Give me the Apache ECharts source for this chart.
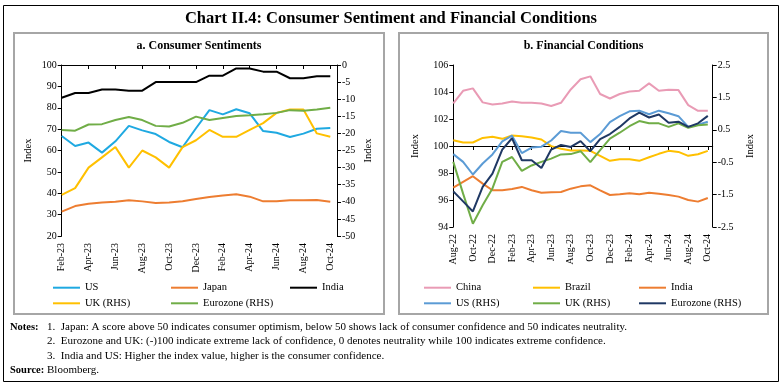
<!DOCTYPE html>
<html>
<head>
<meta charset="utf-8">
<script src="https://cdn.jsdelivr.net/npm/echarts@6/dist/echarts.min.js"></script>
<style>html,body{margin:0;padding:0;background:#fff}#c{width:782px;height:385px}</style>
</head>
<body>
<div id="c"></div>
<script>
// ---- Panel a: Consumer Sentiments ----
const monthsA = ['Feb-23','Mar-23','Apr-23','May-23','Jun-23','Jul-23','Aug-23','Sep-23','Oct-23','Nov-23','Dec-23','Jan-24','Feb-24','Mar-24','Apr-24','May-24','Jun-24','Jul-24','Aug-24','Sep-24','Oct-24'];
const usA = [66.8, 62.1, 63.7, 59.0, 64.3, 71.5, 69.4, 67.7, 64.0, 61.5, 70.4, 78.9, 76.9, 79.3, 77.4, 69.1, 68.3, 66.3, 67.9, 70.2, 70.5];
const japanA = [31.4, 34.0, 35.1, 35.7, 36.0, 36.7, 36.2, 35.4, 35.7, 36.3, 37.3, 38.2, 39.0, 39.5, 38.4, 36.2, 36.3, 36.7, 36.7, 36.8, 36.0];
const indiaA = [84.7, 86.9, 86.9, 88.5, 88.5, 88.0, 88.0, 92.0, 92.0, 92.0, 92.0, 95.0, 95.0, 98.4, 98.4, 96.9, 96.9, 93.8, 93.8, 94.7, 94.7];
const ukA = [-38, -36, -30, -27, -24, -30, -25, -27, -30, -24, -22, -19, -21, -21, -19, -17, -14, -13, -13, -20, -21];
const euroA = [-19.0, -19.2, -17.4, -17.3, -16.1, -15.2, -16.1, -17.8, -18.0, -16.9, -15.1, -16.1, -15.5, -14.9, -14.7, -14.4, -14.0, -13.2, -13.4, -13.0, -12.5];

// ---- Panel b: Financial Conditions ----
const monthsB = ['Aug-22','Sep-22','Oct-22','Nov-22','Dec-22','Jan-23','Feb-23','Mar-23','Apr-23','May-23','Jun-23','Jul-23','Aug-23','Sep-23','Oct-23','Nov-23','Dec-23','Jan-24','Feb-24','Mar-24','Apr-24','May-24','Jun-24','Jul-24','Aug-24','Sep-24','Oct-24'];
const chinaB = [103.15, 104.09, 104.27, 103.23, 103.08, 103.15, 103.30, 103.20, 103.20, 103.15, 102.96, 103.20, 104.19, 104.94, 105.16, 103.85, 103.52, 103.85, 104.04, 104.09, 104.64, 104.09, 104.17, 104.14, 103.03, 102.61, 102.61];
const brazilB = [100.43, 100.26, 100.26, 100.60, 100.68, 100.53, 100.78, 100.73, 100.63, 100.48, 99.99, 99.79, 99.66, 99.66, 99.64, 99.27, 98.90, 99.02, 99.02, 98.90, 99.17, 99.42, 99.64, 99.56, 99.27, 99.39, 99.64];
const indiaB = [96.92, 97.34, 97.76, 97.21, 96.72, 96.72, 96.82, 96.97, 96.72, 96.54, 96.57, 96.59, 96.84, 97.01, 97.09, 96.72, 96.37, 96.42, 96.50, 96.42, 96.54, 96.47, 96.37, 96.25, 96.00, 95.88, 96.15];
const usB = [-0.25, -0.49, -0.88, -0.54, -0.26, 0.14, 0.32, -0.22, -0.05, -0.02, 0.17, 0.46, 0.41, 0.41, 0.12, 0.37, 0.74, 0.92, 1.07, 1.09, 0.98, 1.09, 1.01, 0.92, 0.59, 0.66, 0.75];
const ukB = [-0.49, -1.47, -2.40, -1.83, -1.31, -0.49, -0.34, -0.77, -0.60, -0.49, -0.39, -0.26, -0.25, -0.16, -0.50, -0.13, 0.23, 0.41, 0.61, 0.77, 0.70, 0.70, 0.59, 0.70, 0.56, 0.64, 0.66];
const euroB = [-1.40, -1.71, -2.02, -1.26, -0.85, -0.11, 0.24, -0.44, -0.44, -0.68, -0.11, 0.03, -0.03, 0.15, -0.16, 0.21, 0.37, 0.59, 0.85, 1.03, 0.88, 0.97, 0.72, 0.75, 0.59, 0.70, 0.93];

const titleText = 'Chart II.4: Consumer Sentiment and Financial Conditions';
const subA = 'a. Consumer Sentiments';
const subB = 'b. Financial Conditions';
const notes = [
  '1.  Japan: A score above 50 indicates consumer optimism, below 50 shows lack of consumer confidence and 50 indicates neutrality.',
  '2.  Eurozone and UK: (-)100 indicate extreme lack of confidence, 0 denotes neutrality while 100 indicates extreme confidence.',
  '3.  India and US: Higher the index value, higher is the consumer confidence.'
];
const sourceText = 'Bloomberg.';

const FONT = "'Liberation Serif', 'Times New Roman', serif";
const C = {us:'#1FA9E1', japan:'#ED7D31', india:'#000000', uk:'#FFC000', euro:'#70AD47',
           china:'#E99BB5', brazil:'#FFC000', indiaB:'#ED7D31', usB:'#5B9BD5', ukB:'#70AD47', euroB:'#1F3864'};

const pairs = arr => arr.map((v, i) => [i, v]);
const chart = echarts.init(document.getElementById('c'), null, {renderer: 'canvas'});

function xAx(gi, labels, maxV) {
  return {
    type: 'value', gridIndex: gi, min: 0, max: maxV, interval: 2,
    axisLine: {show: true, lineStyle: {color: '#000', width: 1}},
    axisTick: {show: true, length: 4, lineStyle: {color: '#000'}},
    splitLine: {show: false},
    axisLabel: {rotate: 90, margin: 7, fontFamily: FONT, fontSize: 10, color: '#000',
      showMaxLabel: false, formatter: v => labels[v] || ''}
  };
}
function yAx(gi, pos, min, max, interval, gap) {
  return {
    type: 'value', gridIndex: gi, position: pos, min: min, max: max, interval: interval,
    name: 'Index', nameLocation: 'middle', nameRotate: 90, nameGap: gap,
    nameTextStyle: {fontFamily: FONT, fontSize: 10.5, color: '#000'},
    axisLine: {show: true, lineStyle: {color: '#000', width: 1}},
    axisTick: {show: true, length: 4, lineStyle: {color: '#000'}},
    splitLine: {show: false},
    axisLabel: {margin: 5, fontFamily: FONT, fontSize: 10, color: '#000'}
  };
}
function line(name, data, xi, yi, color) {
  return {name: name, type: 'line', xAxisIndex: xi, yAxisIndex: yi, data: pairs(data),
    showSymbol: false, symbol: 'none', lineStyle: {color: color, width: 2}, itemStyle: {color: color},
    animation: false, silent: true};
}
function leg(name, x, y) {
  return {data: [name], left: x, top: y, padding: 0, itemWidth: 27, itemHeight: 2, icon: 'rect',
    itemGap: 0, textStyle: {fontFamily: FONT, fontSize: 10.5, color: '#000', lineHeight: 12}};
}

const legA = [['US', 'Japan', 'India'], ['UK (RHS)', 'Eurozone (RHS)']];
const legB = [['China', 'Brazil', 'India '], ['US (RHS)', 'UK (RHS) ', 'Eurozone (RHS) ']];
const legends = [];
const colA = [53, 171, 290], colB = [424, 533, 639], rowY = [281.7, 297.3];
legA.forEach((row, r) => row.forEach((n, c) => legends.push(leg(n, colA[c], rowY[r]))));
legB.forEach((row, r) => row.forEach((n, c) => legends.push(leg(n, colB[c], rowY[r]))));

const txt = (x, y, text, size, bold, align) => ({type: 'text', x: x, y: y, silent: true,
  style: {text: text, fontFamily: FONT, fontSize: size, fontWeight: bold ? 'bold' : 'normal', fill: '#000',
    align: align || 'left', verticalAlign: 'middle'}});

const graphics = [
  {type: 'rect', shape: {x: 3.5, y: 5.5, width: 775, height: 376}, style: {fill: 'none', stroke: '#000', lineWidth: 1}, silent: true},
  {type: 'rect', shape: {x: 14, y: 33, width: 370, height: 281}, style: {fill: 'none', stroke: '#A6A6A6', lineWidth: 2}, silent: true},
  {type: 'rect', shape: {x: 399, y: 33, width: 369, height: 281}, style: {fill: 'none', stroke: '#A6A6A6', lineWidth: 2}, silent: true},
  txt(391, 19, titleText, 16.5, true, 'center'),
  txt(199, 46, subA, 12, true, 'center'),
  txt(583.5, 46, subB, 12, true, 'center'),
  txt(10, 327, 'Notes:', 10.5, true),
  txt(47, 327, notes[0], 11, false),
  txt(47, 341.5, notes[1], 11, false),
  txt(47, 356, notes[2], 11, false),
  txt(10, 370.5, 'Source:', 10.5, true),
  txt(47, 370.5, sourceText, 11, false)
];

chart.setOption({
  animation: false,
  backgroundColor: '#fff',
  grid: [
    {left: 61.7, top: 65, width: 275.3, height: 171, outerBoundsMode: 'none'},
    {left: 453.3, top: 65, width: 259.4, height: 162, outerBoundsMode: 'none'}
  ],
  xAxis: [xAx(0, monthsA, monthsA.length - 0.5), xAx(1, monthsB, monthsB.length - 0.5)],
  yAxis: [
    yAx(0, 'left', 20, 100, 10, 28),
    yAx(0, 'right', -50, 0, 5, 26),
    yAx(1, 'left', 94, 106, 2, 33),
    yAx(1, 'right', -2.5, 2.5, 1, 32)
  ],
  legend: legends,
  series: [
    line('US', usA, 0, 0, C.us),
    line('Japan', japanA, 0, 0, C.japan),
    line('India', indiaA, 0, 0, C.india),
    line('UK (RHS)', ukA, 0, 1, C.uk),
    line('Eurozone (RHS)', euroA, 0, 1, C.euro),
    line('China', chinaB, 1, 2, C.china),
    line('Brazil', brazilB, 1, 2, C.brazil),
    line('India ', indiaB, 1, 2, C.indiaB),
    line('US (RHS)', usB, 1, 3, C.usB),
    line('UK (RHS) ', ukB, 1, 3, C.ukB),
    line('Eurozone (RHS) ', euroB, 1, 3, C.euroB)
  ],
  graphic: graphics
});
</script>
</body>
</html>
